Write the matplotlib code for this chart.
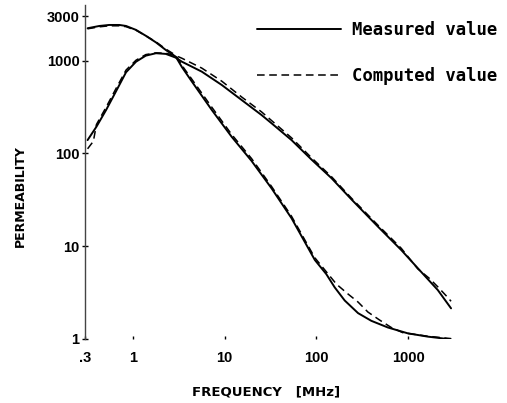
import numpy as np
import matplotlib
matplotlib.use("Agg")
import matplotlib.pyplot as plt
from matplotlib import font_manager

##############################
## Data ##
##############################

# curve A: high start (~2300 at .3 MHz), steep roll-off down to ~1
freq_a = [0.32, 0.43, 0.55, 0.71, 0.84, 1.08, 1.38, 1.78, 2.28, 2.93, 3.41, 4.38,
          7.22, 11.9, 19.6, 32.4, 53.5, 96, 128, 158, 203, 284, 396, 601, 993,
          1640, 2930]
meas_a = [2230, 2360, 2420, 2420, 2360, 2140, 1850, 1570, 1300, 1100, 853, 595,
          294, 151, 83, 42, 20, 7.1, 5.0, 3.6, 2.6, 1.9, 1.57, 1.33, 1.15,
          1.06, 0.99]
freq_a_c = [0.32, 0.43, 0.55, 0.71, 0.84, 1.08, 1.38, 1.78, 2.28, 2.93, 3.41, 4.38,
            7.22, 11.9, 19.6, 32.4, 53.5, 96, 128, 165, 221, 284, 364, 488, 654,
            873, 1640, 2930]
comp_a = [2200, 2310, 2370, 2370, 2320, 2120, 1850, 1590, 1330, 1140, 890, 630,
          315, 160, 88, 44, 21, 7.5, 5.3, 3.9, 3.05, 2.5, 1.95, 1.6, 1.33,
          1.17, 1.07, 1.01]

# curve B: low start (~140), peak ~1200 near 2 MHz, ends ~2
freq_b = [0.32, 0.40, 0.51, 0.65, 0.84, 1.08, 1.38, 1.78, 2.28, 2.93, 3.41, 5.62,
          9.28, 15.3, 25.2, 32.4, 53.5, 88, 146, 240, 469, 839, 1380, 2100, 2930]
meas_b = [139, 194, 294, 462, 748, 973, 1130, 1200, 1180, 1075, 973, 760,
          546, 376, 259, 211, 139, 86, 54, 32, 16.2, 9.1, 5.3, 3.37, 2.14]
freq_b_c = [0.32, 0.37, 0.40, 0.51, 0.65, 0.84, 1.08, 1.38, 1.78, 2.28, 2.93, 3.41,
            5.62, 9.28, 15.3, 25.2, 53.5, 88, 146, 240, 469, 839, 1270, 1700,
            2100, 2700, 2930]
comp_b = [112, 135, 205, 315, 495, 790, 1010, 1160, 1210, 1200, 1130, 1060,
          830, 600, 405, 280, 147, 90, 56, 33, 16.8, 9.5, 5.7, 4.5, 3.65,
          2.8, 2.55]

xticks = [0.3, 1, 10, 100, 1000]
xticklabels = ['.3', '1', '10', '100', '1000']
yticks = [1, 10, 100, 1000, 3000]
yticklabels = ['1', '10', '100', '1000', '3000']

##############################
## Fonts #####################
##############################

names = set(f.name for f in font_manager.fontManager.ttflist)
narrow = 'Liberation Sans Narrow' if 'Liberation Sans Narrow' in names else 'DejaVu Sans'
tickfont = 'Liberation Sans' if 'Liberation Sans' in names else 'DejaVu Sans'

##############################
## Plotting ##################
##############################

fig = plt.figure(figsize=(5.07, 4.03), dpi=100)
ax = fig.add_axes([85/507, 1 - 339/403, 367/507, 334.3/403])

solid_kw = dict(color='black', lw=1.4, solid_capstyle='round', solid_joinstyle='round')
dash_kw = dict(color='black', lw=1.1, dashes=(5, 3))

ax.plot(freq_a, meas_a, label='Measured value', **solid_kw)
ax.plot(freq_a_c, comp_a, label='Computed value', **dash_kw)
ax.plot(freq_b, meas_b, **solid_kw)
ax.plot(freq_b_c, comp_b, **dash_kw)

ax.set_xscale('log')
ax.set_yscale('log')
ax.set_xlim(0.3, 3000)
ax.set_ylim(1, 4000)

for s in ['top', 'right', 'bottom']:
    ax.spines[s].set_visible(False)
ax.spines['left'].set_color('#444444')
ax.spines['left'].set_linewidth(1.0)

ax.minorticks_off()
ax.set_xticks(xticks)
ax.set_xticklabels(xticklabels)
ax.set_yticks(yticks)
ax.set_yticklabels(yticklabels)
ax.tick_params(axis='x', direction='in', length=2, width=1, pad=9)
ax.tick_params(axis='y', direction='inout', length=4, width=1, pad=2)
for lab in ax.get_xticklabels() + ax.get_yticklabels():
    lab.set_fontfamily(tickfont)
    lab.set_fontweight('bold')
    lab.set_fontsize(10.5)

fig.text(20/507, 1 - 196/403, 'PERMEABILITY', rotation=90, ha='center', va='center',
         family=narrow, fontweight='bold', fontsize=9)
fig.text(266/507, 1 - 392/403, 'FREQUENCY   [MHz]', ha='center', va='center',
         family=narrow, fontweight='bold', fontsize=9.5)

leg = ax.legend(loc='upper left', bbox_to_anchor=(257/507, 1 - 21/403),
                bbox_transform=fig.transFigure, frameon=False,
                handlelength=4.9, handletextpad=0.6, labelspacing=1.6,
                borderpad=0, borderaxespad=0,
                prop=dict(family='DejaVu Sans Mono', weight='bold', size=12.4))

fig.savefig('out.png', dpi=100)
